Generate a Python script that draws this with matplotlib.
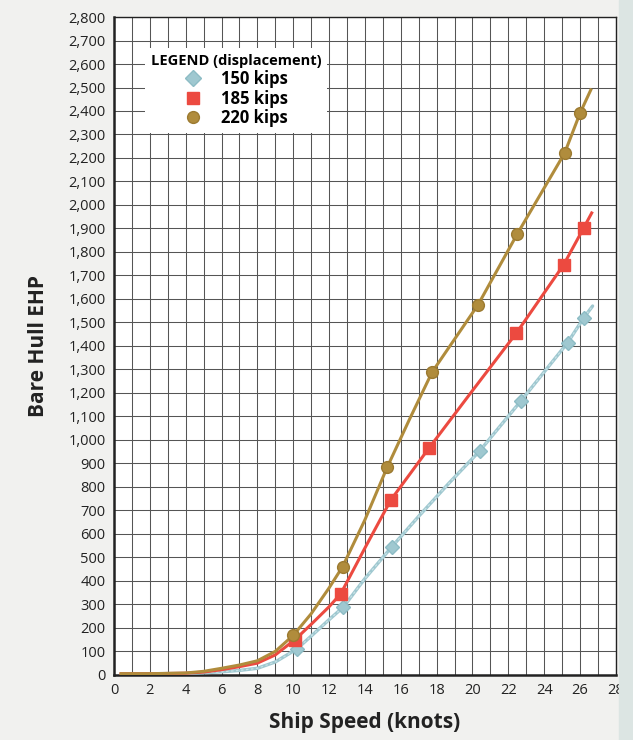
import matplotlib
matplotlib.use("Agg")
import matplotlib.pyplot as plt
from matplotlib.lines import Line2D
from matplotlib.ticker import FuncFormatter, MultipleLocator

plt.rcParams['font.family'] = ['Open Sans', 'DejaVu Sans']

# ---- data ----
series_names = ["150 kips", "185 kips", "220 kips"]

line150_speed = [0.4, 2, 4, 5, 6, 7, 8, 9, 10.2, 11, 12, 12.8, 14, 15.5, 17, 18.7, 20.4, 22.7, 25.3, 26.2, 26.7]
line150_ehp = [5, 5, 6, 9, 13, 19, 28, 55, 110, 165, 235, 289, 410, 545, 675, 817, 953, 1166, 1413, 1519, 1570]
mark150_speed = [10.2, 12.8, 15.5, 20.4, 22.7, 25.3, 26.2]
mark150_ehp = [110, 289, 545, 953, 1166, 1413, 1519]

line185_speed = [0.4, 2, 4, 5, 6, 7, 8, 9, 10.1, 11, 12, 12.65, 14, 15.45, 17.58, 20, 22.45, 25.08, 26.2, 26.65]
line185_ehp = [5, 5, 7, 12, 22, 35, 50, 85, 150, 215, 290, 345, 540, 745, 966, 1210, 1455, 1745, 1902, 1966]
mark185_speed = [10.1, 12.65, 15.45, 17.58, 22.45, 25.08, 26.2]
mark185_ehp = [150, 345, 745, 966, 1455, 1745, 1902]

line220_speed = [0.4, 2, 4, 5, 6, 7, 8, 9, 10, 11, 12, 12.75, 14, 15.25, 16.5, 17.75, 20.3, 22.5, 25.14, 26.0, 26.6]
line220_ehp = [5, 5, 8, 15, 28, 42, 60, 100, 168, 260, 370, 460, 660, 885, 1090, 1289, 1574, 1877, 2221, 2391, 2490]
mark220_speed = [10, 12.75, 15.25, 17.75, 20.3, 22.5, 25.14, 26.0]
mark220_ehp = [168, 460, 885, 1289, 1574, 1877, 2221, 2391]

x_ticks = list(range(0, 29, 2))
y_ticks = list(range(0, 2801, 100))

# ---- styling ----
col150 = "#9fc8d0"
col185 = "#ec4a40"
col220 = "#b08c3c"

fig = plt.figure(figsize=(6.33, 7.40), dpi=100, facecolor="#f1f1ef")
fig.patches.append(plt.Rectangle((0.978, 0), 0.022, 1, transform=fig.transFigure,
                                 color="#dce5e3", zorder=0))
ax = fig.add_axes([0.180, 0.088, 0.793, 0.889])
ax.set_facecolor("white")

ax.set_xlim(0, 28)
ax.set_ylim(0, 2800)
ax.set_xticks(x_ticks)
ax.xaxis.set_minor_locator(MultipleLocator(1))
ax.set_yticks(y_ticks)
ax.yaxis.set_major_formatter(FuncFormatter(lambda v, p: f"{int(v):,}"))
ax.grid(True, which="both", color="#555555", lw=0.75)
ax.set_axisbelow(True)
ax.tick_params(which="both", length=0, labelsize=10.5, colors="#222222", pad=6)
for s in ax.spines.values():
    s.set_color("#222222")
    s.set_linewidth(1.0)
ax.spines["left"].set_linewidth(1.8)
ax.spines["bottom"].set_linewidth(1.8)

ax.plot(line150_speed, line150_ehp, color=col150, lw=2.4, solid_capstyle="round", zorder=3)
ax.plot(line150_speed, line150_ehp, color="#c9e2e6", lw=0.9, ls=(0, (2, 2)), zorder=3)
ax.plot(line185_speed, line185_ehp, color=col185, lw=2.2, zorder=3)
ax.plot(line220_speed, line220_ehp, color=col220, lw=2.2, zorder=3)

ax.plot(mark150_speed, mark150_ehp, ls="none", marker="D", ms=7.5, color=col150,
        mec="#8dbcc5", zorder=4)
ax.plot(mark185_speed, mark185_ehp, ls="none", marker="s", ms=8.5, color=col185,
        mec=col185, zorder=4)
ax.plot(mark220_speed, mark220_ehp, ls="none", marker="o", ms=8.5, color=col220,
        mec="#9c7a30", zorder=4)

handles = [
    Line2D([], [], ls="none", marker="D", ms=8, color=col150, mec="#8dbcc5"),
    Line2D([], [], ls="none", marker="s", ms=8.5, color=col185, mec=col185),
    Line2D([], [], ls="none", marker="o", ms=8.5, color=col220, mec="#9c7a30"),
]
leg = ax.legend(handles, series_names, title="LEGEND (displacement)",
                loc="upper left", bbox_to_anchor=(0.045, 0.965),
                frameon=True, fancybox=False, framealpha=1, edgecolor="none",
                facecolor="white", handlelength=1.0, handletextpad=1.2,
                borderpad=0.35, labelspacing=0.1,
                prop={"weight": "bold", "size": 12},
                title_fontproperties={"weight": "bold", "size": 10.5})
leg.set_zorder(5)
leg._legend_box.align = "center"

ax.set_xlabel("Ship Speed (knots)", fontsize=15, fontweight="bold", color="#222222", labelpad=10)
ax.set_ylabel("Bare Hull EHP", fontsize=15, fontweight="bold", color="#222222", labelpad=14)

fig.savefig("out.png", dpi=100, facecolor=fig.get_facecolor())
